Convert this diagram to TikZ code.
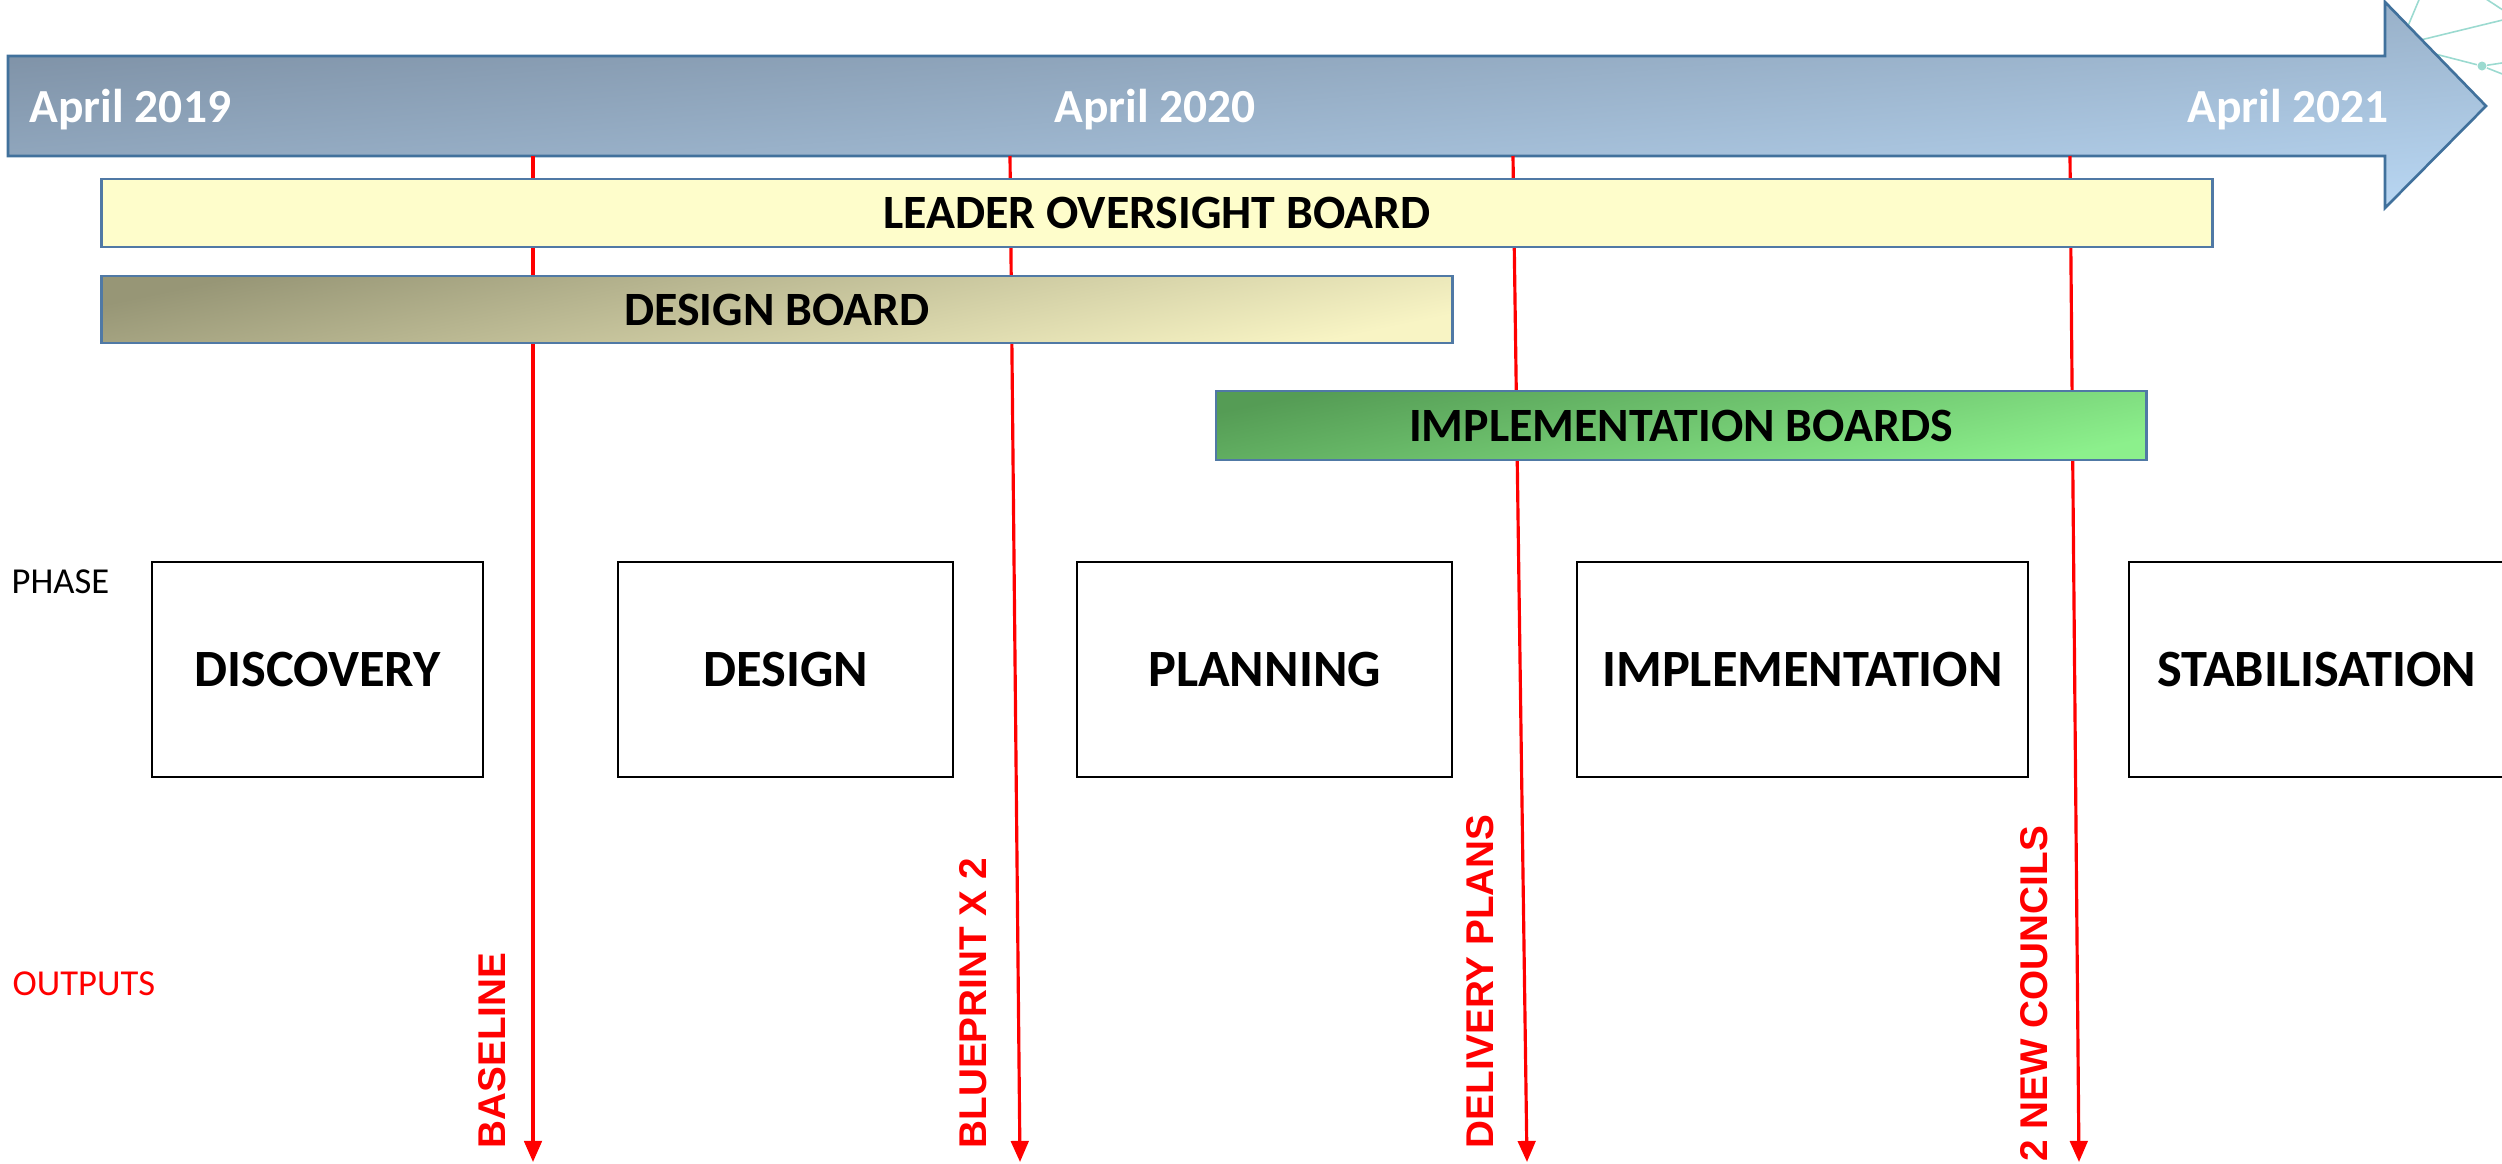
\documentclass[tikz,border=0pt]{standalone}
\usepackage{fontspec}
\setmainfont{Carlito}
\newfontfamily\arialfont{Liberation Sans}
\usetikzlibrary{arrows.meta, positioning}
\definecolor{arrowedge}{HTML}{41719C}
\definecolor{baredge}{HTML}{5079A5}
\definecolor{tlleft}{HTML}{7A8CA0}
\definecolor{tlright}{HTML}{B7D5F1}
\definecolor{leaderfill}{HTML}{FEFDCB}
\definecolor{olivedark}{HTML}{979676}
\definecolor{olivelight}{HTML}{F8F4C4}
\definecolor{greendark}{HTML}{559C55}
\definecolor{greenlight}{HTML}{8CF08C}
\definecolor{netteal}{HTML}{9BDAD0}

\begin{document}
\begin{tikzpicture}[x=0.01cm, y=-0.01cm,
  datelabel/.style={text=white, inner sep=0pt, font=\bfseries\fontsize{13.5}{16}\selectfont},
  bar/.style={draw=baredge, line width=0.7pt, inner sep=0pt, font=\bfseries\fontsize{13.6}{16}\selectfont},
  phasebox/.style={draw=black, line width=0.7pt, minimum height=2.15cm, inner sep=0pt, font=\bfseries\fontsize{14.9}{17}\selectfont},
  rowlabel/.style={anchor=west, inner sep=0pt, font=\fontsize{10.4}{12}\selectfont},
  output/.style={red, line width=0.9pt, -{Triangle[length=6pt, width=5pt]}},
  outlabel/.style={rotate=90, anchor=south west, inner sep=0pt, text=red, font=\arialfont\bfseries\fontsize{11}{13}\selectfont}
]
\useasboundingbox (0,0) rectangle (2502,1163);

% network graphic behind the arrow head
\coordinate (hub) at (2400,45);
\node[circle, fill=netteal, inner sep=0pt, minimum size=0.09cm] (dot) at (2482,66) {};
\draw[netteal, line width=0.45pt] (hub) -- (2421,-5);
\draw[netteal, line width=0.45pt] (hub) -- (2515,17);
\draw[netteal, line width=0.45pt] (hub) -- (dot);
\draw[netteal, line width=0.45pt] (dot) -- (2515,61);
\draw[netteal, line width=0.45pt] (dot) -- (2515,79);
\draw[netteal, line width=0.45pt] (2480,-5) -- (2515,18);

% timeline arrow
\draw[top color=tlleft, bottom color=tlright, shading angle=5, draw=arrowedge, line width=0.75pt]
  (8,56) -- (2385,56) -- (2385,2) -- (2486,106) -- (2385,208) -- (2385,156) -- (8,156) -- cycle;
\node[datelabel, anchor=base west] (apr19) at (29,122) {April 2019};
\node[datelabel, anchor=base] (apr20) at (1155,122) {April 2020};
\node[datelabel, anchor=base] (apr21) at (2288,122) {April 2021};

% output markers
\coordinate (m1top) at (533,156);   \coordinate (m1end) at (533,1162);
\coordinate (m2top) at (1010,156);  \coordinate (m2end) at (1020,1162);
\coordinate (m3top) at (1513,156);  \coordinate (m3end) at (1527,1162);
\coordinate (m4top) at (2070,156);  \coordinate (m4end) at (2079,1162);
\draw[output] (m1top) -- (m1end);
\draw[output] (m2top) -- (m2end);
\draw[output] (m3top) -- (m3end);
\draw[output] (m4top) -- (m4end);

% boards
\node[bar, fill=leaderfill, minimum width=21.1cm, minimum height=0.68cm] (leader) at (1157,213) {LEADER OVERSIGHT BOARD};
\node[bar, top color=olivedark, bottom color=olivelight, shading angle=12, minimum width=13.5cm, minimum height=0.67cm] (designboard) at (777,309.5) {DESIGN BOARD};
\node[bar, top color=greendark, bottom color=greenlight, shading angle=12, minimum width=9.3cm, minimum height=0.69cm] (implboards) at (1681,425.5) {IMPLEMENTATION BOARDS};

% phases
\node[rowlabel] (phase) at (11,582) {PHASE};
\node[phasebox, minimum width=3.31cm] (discovery) at (317.5,669.5) {DISCOVERY};
\node[phasebox, minimum width=3.35cm] (design) at (785.5,669.5) {DESIGN};
\node[phasebox, minimum width=3.75cm] (planning) at (1264.5,669.5) {PLANNING};
\node[phasebox, minimum width=4.51cm] (implementation) at (1802.5,669.5) {IMPLEMENTATION};
\node[phasebox, minimum width=3.75cm] (stabilisation) at (2316.5,669.5) {STABILISATION};

% outputs
\node[rowlabel, text=red] (outputs) at (12,984) {OUTPUTS};
\node[outlabel] (baseline) at (507,1149) {BASELINE};
\node[outlabel] (blueprint) at (988,1149) {BLUEPRINT X 2};
\node[outlabel] (delivery) at (1495,1149) {DELIVERY PLANS};
\node[outlabel] (councils) at (2049,1162) {2 NEW COUNCILS};
\end{tikzpicture}
\end{document}
